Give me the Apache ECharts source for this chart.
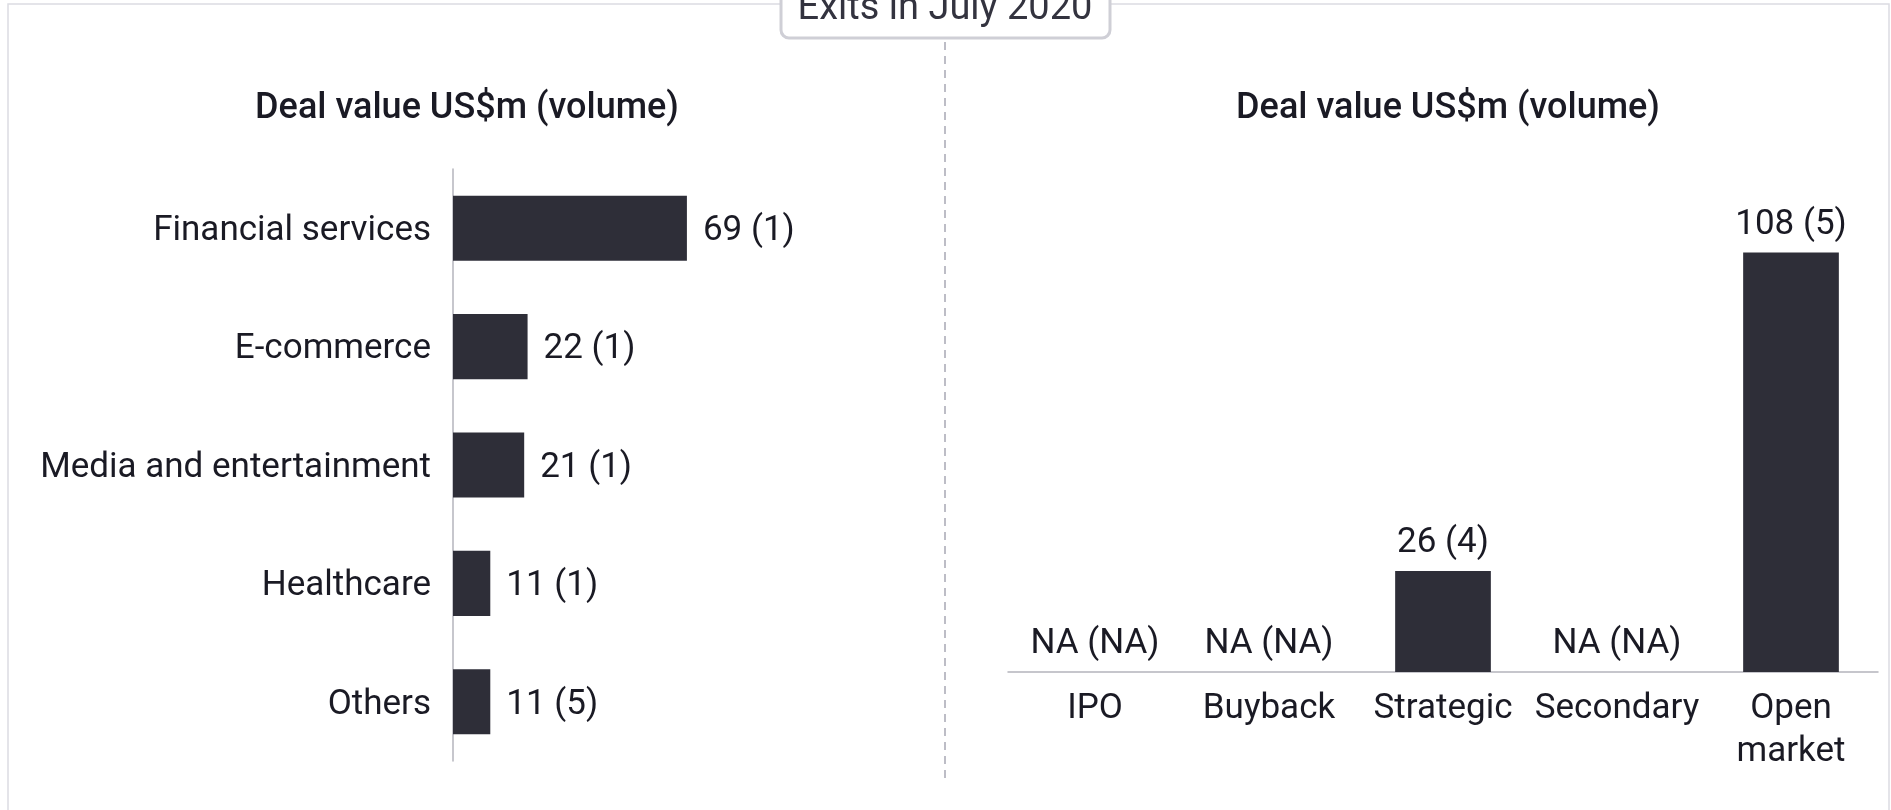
<!DOCTYPE html>
<html>
<head>
<meta charset="utf-8">
<title>Exits in July 2020</title>
<script src="https://cdn.jsdelivr.net/npm/echarts@6/dist/echarts.min.js"></script>
<style>
  html, body { margin: 0; padding: 0; background: #fff; }
  #main { width: 1891px; height: 810px; }
</style>
</head>
<body>
<div id="main"></div>
<script>
// data
var sectorNames = ['Financial services', 'E-commerce', 'Media and entertainment', 'Healthcare', 'Others']
var sectorValues = [69, 22, 21, 11, 11]
var sectorVolumes = [1, 1, 1, 1, 5]

var exitTypes = ['IPO', 'Buyback', 'Strategic', 'Secondary', 'Open\nmarket']
var exitValues = [null, null, 26, null, 108]   // null = NA
var exitVolumes = [null, null, 4, null, 5]

var FONT = 'Roboto, "Liberation Sans", sans-serif'
var INK = '#1a1a24'
var BAR = '#2e2e38'

var myChart = echarts.init(document.getElementById('main'))

function naLabel(v, n) {
  if (v === null) return 'NA (NA)'
  return v + ' (' + n + ')'
}

myChart.setOption({
  animation: false,
  textStyle: { fontFamily: FONT },
  title: [
    { // left panel heading
      text: 'Deal value US$m (volume)',
      left: 462, top: 86, textAlign: 'center',
      textStyle: { fontSize: 36, fontWeight: 500, color: INK, fontFamily: FONT }
    },
    { // right panel heading
      text: 'Deal value US$m (volume)',
      left: 1443, top: 86, textAlign: 'center',
      textStyle: { fontSize: 36, fontWeight: 500, color: INK, fontFamily: FONT }
    }
  ],
  graphic: [
    { // outer frame
      type: 'rect', silent: true, z: 0,
      shape: { x: 8, y: 4, width: 1881, height: 840 },
      style: { fill: null, stroke: '#dcdce2', lineWidth: 1.5 }
    },
    { // divider
      type: 'line', silent: true, z: 1,
      shape: { x1: 945, y1: 42, x2: 945, y2: 784 },
      style: { stroke: '#a8a8b4', lineWidth: 1.5, lineDash: [8, 6] }
    },
    { // title box
      type: 'rect', silent: true, z: 2,
      shape: { x: 781, y: -30, width: 329, height: 68, r: 8 },
      style: { fill: '#fff', stroke: '#cfcfd6', lineWidth: 3 }
    },
    {
      type: 'text', silent: true, z: 3,
      x: 945, y: 9,
      style: {
        text: 'Exits in July 2020',
        fontSize: 38, fontFamily: FONT, fill: '#33333f',
        align: 'center', verticalAlign: 'middle'
      }
    }
  ],
  grid: [
    { left: 453, width: 339, top: 169, height: 592 },
    { left: 1008, right: 13, top: 206, bottom: 138 }
  ],
  xAxis: [
    {
      gridIndex: 0, type: 'value', min: 0, max: 100,
      show: false
    },
    {
      gridIndex: 1, type: 'category', data: exitTypes,
      axisLine: { lineStyle: { color: '#b4b4bc', width: 1.5 } },
      axisTick: { show: false },
      axisLabel: { color: INK, fontSize: 35, lineHeight: 43, margin: 16, interval: 0 }
    }
  ],
  yAxis: [
    {
      gridIndex: 0, type: 'category', data: sectorNames, inverse: true,
      axisLine: { lineStyle: { color: '#b4b4bc', width: 1.5 } },
      axisTick: { show: false },
      axisLabel: {
        margin: 22,
        formatter: function (v) { return '{n|' + v + '}' },
        rich: { n: { color: INK, fontSize: 35, fontFamily: FONT, padding: [6, 0, 0, 0] } }
      }
    },
    {
      gridIndex: 1, type: 'value', min: 0, max: 120,
      show: false
    }
  ],
  series: [
    {
      type: 'bar', xAxisIndex: 0, yAxisIndex: 0,
      barWidth: '55%',
      itemStyle: { color: BAR },
      data: sectorValues,
      label: {
        show: true, position: 'right', distance: 16, offset: [0, 3],
        color: INK, fontSize: 35,
        formatter: function (p) { return p.value + ' (' + sectorVolumes[p.dataIndex] + ')' }
      }
    },
    {
      type: 'bar', xAxisIndex: 1, yAxisIndex: 1,
      barWidth: '55%',
      itemStyle: { color: BAR },
      data: exitValues.map(function (v) { return v === null ? 0 : v }),
      label: {
        show: true, position: 'top', distance: 10,
        color: INK, fontSize: 35,
        formatter: function (p) { return naLabel(exitValues[p.dataIndex], exitVolumes[p.dataIndex]) }
      }
    }
  ]
})
</script>
</body>
</html>
